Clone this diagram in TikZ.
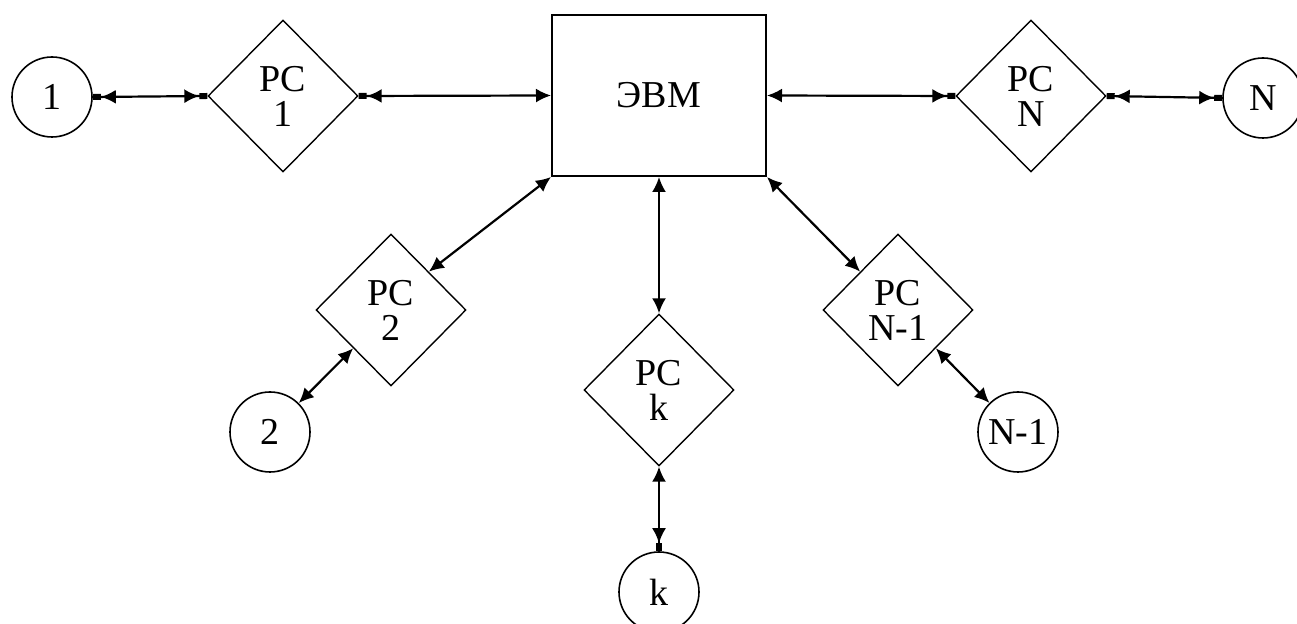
\documentclass[tikz,border=0pt]{standalone}
\usepackage{fontspec}
\setmainfont{Liberation Serif}
\usetikzlibrary{shapes.geometric,arrows.meta}
\tikzset{
  rs/.style={draw, line width=0.7pt, shape=diamond, aspect=1, inner sep=0pt,
    minimum width=75pt, minimum height=76pt, align=center,
    font=\fontsize{19}{17.5}\selectfont},
  term/.style={draw, line width=0.8pt, circle, inner sep=0pt, minimum size=40pt,
    font=\fontsize{19}{19}\selectfont},
  evmbox/.style={draw, line width=1pt, rectangle, minimum width=107pt,
    minimum height=80.5pt, font=\fontsize{19}{19}\selectfont},
  ar/.style={line width=1.1pt, {Latex[length=7.5pt,width=7pt]}-{Latex[length=7.5pt,width=7pt]}},
  arS/.style={line width=1.1pt, {Rectangle[length=4pt,width=3pt] Latex[length=7.5pt,width=7pt]}-{Latex[length=7.5pt,width=7pt]}},
  arE/.style={line width=1.1pt, {Latex[length=7.5pt,width=7pt]}-{Latex[length=7.5pt,width=7pt] Rectangle[length=4pt,width=3pt]}},
  arSE/.style={line width=1.1pt, {Rectangle[length=4pt,width=3pt] Latex[length=7.5pt,width=7pt]}-{Latex[length=7.5pt,width=7pt] Rectangle[length=4pt,width=3pt]}},
}
\begin{document}
\begin{tikzpicture}[x=0.5pt,y=-0.5pt]
\useasboundingbox (0,0) rectangle (1297,624);
\node[term] (c1) at (52,97) {1};
\node[rs] (pc1) at (283,96) {PC\\1};
\node[evmbox] (evm) at (659,95.5) {ЭВМ};
\node[rs] (pcN) at (1031,96) {PC\\N};
\node[term] (cN) at (1263,98) {N};
\node[rs] (pc2) at (391,310) {PC\\2};
\node[term] (c2) at (270,432) {2};
\node[rs] (pck) at (659,390) {PC\\k};
\node[term] (ck) at (659,592) {k};
\node[rs] (pcn1) at (898,310) {PC\\N-1};
\node[term] (cn1) at (1018,432) {N-1};

\draw[arSE] (c1.east) -- (pc1.west);
\draw[arS] (pc1.east) -- (evm.west);
\draw[arE] (evm.east) -- (pcN.west);
\draw[arSE] (pcN.east) -- (cN.west);
\draw[ar] (evm.south west) -- (pc2.north east);
\draw[ar] (pc2.south west) -- (c2);
\draw[ar] (evm.south) -- (pck.north);
\draw[arE] (pck.south) -- (ck.north);
\draw[ar] (evm.south east) -- (pcn1.north west);
\draw[ar] (pcn1.south east) -- (cn1);
\end{tikzpicture}
\end{document}
